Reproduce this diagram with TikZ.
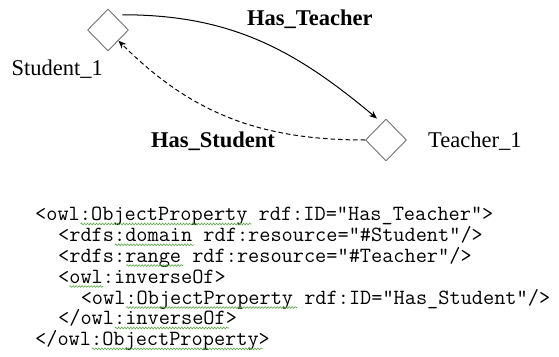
\documentclass[tikz,border=0pt]{standalone}
\usepackage{fontspec}
\setmainfont{Liberation Serif}
\usetikzlibrary{shapes.geometric,arrows.meta,decorations.pathmorphing}
\definecolor{spellgreen}{RGB}{90,170,70}
\begin{document}
\begin{tikzpicture}[x=1bp,y=1bp,
    individual/.style={diamond,draw=black!55,line width=0.9bp,inner sep=0pt,minimum width=41bp,minimum height=42bp},
    indivname/.style={anchor=base west,inner sep=0pt,font=\fontsize{22.5bp}{27bp}\selectfont},
    propname/.style={indivname,font=\fontsize{22.5bp}{27bp}\selectfont\bfseries},
    code/.style={anchor=base west,inner sep=0pt,font=\fontsize{21.7bp}{24bp}\ttfamily},
    link/.style={line width=1bp,-{Stealth[length=8bp,width=6.5bp]}},
    spell/.style={spellgreen,line width=0.6bp,decorate,decoration={snake,segment length=3bp,amplitude=0.9bp}}]
            \useasboundingbox (0,0) rectangle (559,356);

            \node[individual] (student) at (108,326) {};
            \node[individual] (teacher) at (386,216) {};
            \node[indivname] (student label) at (11.5,281) {Student\_1};
            \node[indivname] (teacher label) at (428,209) {Teacher\_1};
            \node[propname] (has teacher) at (247,331) {Has\_Teacher};
            \node[propname] (has student) at (151,209) {Has\_Student};

            \draw[link] ([shift={(4bp,4.5bp)}]student.north east) to[out=0,in=140] ([xshift=-9bp]teacher.north);
            \draw[link,dash pattern=on 4.5bp off 3bp] (teacher.west) to[out=180,in=-45] (student.south east);

            \node[code] (l1) at (35,135.5) {<owl:ObjectProperty rdf:ID="Has\_Teacher">};
            \node[code] (l2) at (58,114.7) {<rdfs:domain rdf:resource="\#Student"/>};
            \node[code] (l3) at (58,94) {<rdfs:range rdf:resource="\#Teacher"/>};
            \node[code] (l4) at (58,73) {<owl:inverseOf>};
            \node[code] (l5) at (80.6,52) {<owl:ObjectProperty rdf:ID="Has\_Student"/>};
            \node[code] (l6) at (58,31.5) {</owl:inverseOf>};
            \node[code] (l7) at (35,10.7) {</owl:ObjectProperty>};

            \draw[spell] (80.6,132) -- (251.6,132);
            \draw[spell] (114.8,111.2) -- (194.6,111.2);
            \draw[spell] (126.2,90.5) -- (183.2,90.5);
            \draw[spell] (69.2,69.5) -- (103.4,69.5);
            \draw[spell] (126.2,48.5) -- (297.2,48.5);
            \draw[spell] (114.8,28) -- (228.8,28);
            \draw[spell] (92,7.2) -- (263,7.2);
        \end{tikzpicture}
\end{document}
